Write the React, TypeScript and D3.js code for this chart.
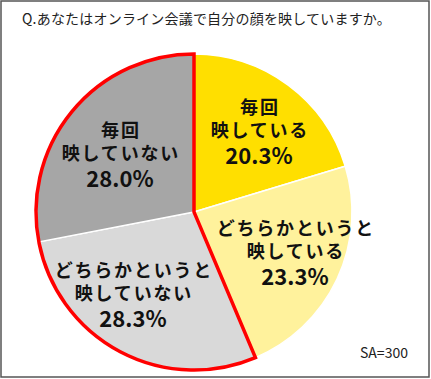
import React from "react";
import * as d3 from "d3";

const title = "Q.あなたはオンライン会議で自分の顔を映していますか。";
const categories = ["毎回映している", "どちらかというと映している", "どちらかというと映していない", "毎回映していない"];
const labelLines = [["毎回", "映している"], ["どちらかというと", "映している"], ["どちらかというと", "映していない"], ["毎回", "映していない"]];
const values = [20.3, 23.3, 28.3, 28.0];
const colors = ["#FFDF00", "#FFF29C", "#D9D9D9", "#A6A6A6"];
const highlighted = [false, false, true, true];
const sampleNote = "SA=300";

const W = 431, H = 379;
const cx = 194, cy = 212, R = 158;
const labelPos: [number, number][] = [[259, 107], [295, 228], [133, 270], [120, 130]];
const LS = 1.8;

export default function App() {
  const pie = d3.pie<number>().sort(null).value((d) => d)(values);
  const arc = d3.arc<d3.PieArcDatum<number>>().innerRadius(0).outerRadius(R);
  const hi = pie.filter((_, i) => highlighted[i]);
  const hiStart = d3.min(hi, (d) => d.startAngle) as number;
  const hiEnd = d3.max(hi, (d) => d.endAngle) as number;
  const redPath = d3.arc()({ innerRadius: 0, outerRadius: R, startAngle: hiStart, endAngle: hiEnd }) as string;
  const font = "'Noto Sans CJK JP', 'Noto Sans', sans-serif";
  return (
    <svg width={W} height={H} style={{ position: "absolute", left: 0, top: 0 }} fontFamily={font}>
      <rect x={0} y={0} width={W} height={H} fill="#fff" />
      <rect x={1} y={1} width={W - 3} height={H - 3} fill="none" stroke="#555" strokeWidth={1.5} />
      <text x={22} y={24} fontSize={14} fill="#222" letterSpacing={0.2}>{title}</text>
      <g transform={`translate(${cx},${cy})`}>
        {pie.map((d, i) => (
          <path key={categories[i]} d={arc(d) as string} fill={colors[i]} stroke="#fff" strokeWidth={1.5} />
        ))}
        <path d={redPath} fill="none" stroke="#FF0000" strokeWidth={3.5} strokeLinejoin="miter" />
      </g>
      {pie.map((d, i) => {
        const [x, y] = labelPos[i];
        return (
          <g key={"l" + i} fontWeight="bold" fill="#111" textAnchor="middle">
            <text x={x + LS / 2} y={y + 7} fontSize={18} letterSpacing={LS}>{labelLines[i][0]}</text>
            <text x={x + LS / 2} y={y + 30} fontSize={18} letterSpacing={LS}>{labelLines[i][1]}</text>
            <text x={x} y={y + 57} fontSize={22}>{d3.format(".1f")(values[i]) + "%"}</text>
          </g>
        );
      })}
      <text x={360} y={358} fontSize={14} fill="#222">{sampleNote}</text>
    </svg>
  );
}
